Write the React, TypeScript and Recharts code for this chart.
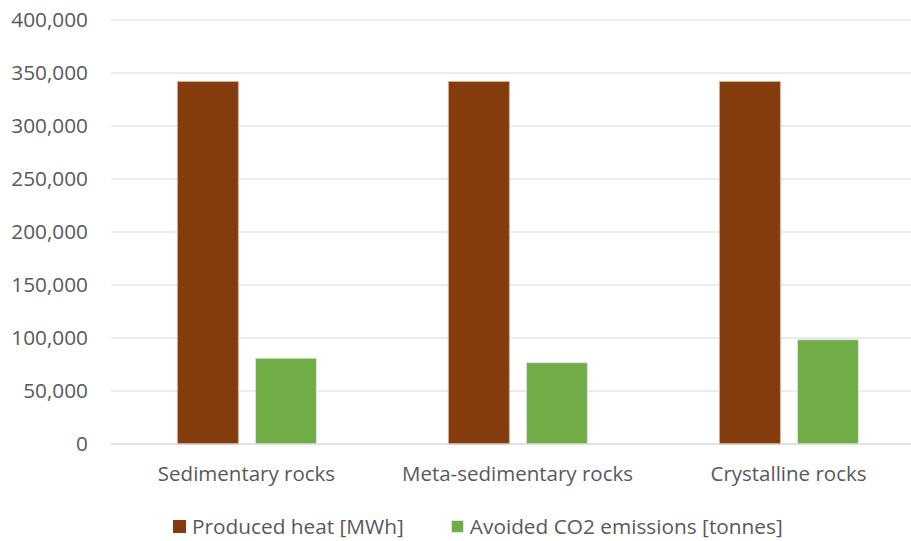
import { BarChart, Bar, XAxis, YAxis, CartesianGrid } from "recharts";

const categories = ["Sedimentary rocks", "Meta-sedimentary rocks", "Crystalline rocks"];
const producedHeat = [342000, 342000, 342000];
const avoidedCO2 = [81000, 76700, 98400];
const yTicks = [0, 50000, 100000, 150000, 200000, 250000, 300000, 350000, 400000];

const seriesNames = ["Produced heat [MWh]", "Avoided CO2 emissions [tonnes]"];
const seriesColors = ["#843C0C", "#70AD47"];

const data = categories.map((name, i) => ({
  name,
  heat: producedHeat[i],
  co2: avoidedCO2[i],
}));

const font = "'Open Sans', sans-serif";

function LegendBox() {
  return (
    <div
      style={{
        position: "absolute",
        left: 173,
        top: 512,
        display: "flex",
        alignItems: "center",
        whiteSpace: "nowrap",
        fontFamily: font,
        fontSize: 20.8,
        color: "#595959",
      }}
    >
      {seriesNames.map((n, i) => (
        <div key={n} style={{ display: "flex", alignItems: "center", marginRight: i === 0 ? 47 : 0 }}>
          <span
            style={{
              display: "inline-block",
              width: 13,
              height: 13,
              background: seriesColors[i],
              marginRight: 6,
              boxSizing: "border-box",
              border: i === 1 ? "1px solid #e2e2e2" : "none",
            }}
          />
          <span>{n}</span>
        </div>
      ))}
    </div>
  );
}

// the source picture is cropped on the right, so the plot runs past the frame
export default function App() {
  return (
    <div
      style={{
        position: "absolute",
        left: 0,
        top: 0,
        width: 911,
        height: 541,
        overflow: "hidden",
        background: "#fff",
      }}
    >
      <BarChart
        width={924}
        height={541}
        data={data}
        margin={{ top: 20, right: 0, bottom: 0, left: 0 }}
        barCategoryGap="24.5%"
        barGap={17}
      >
        <CartesianGrid vertical={false} stroke="#d9d9d9" strokeWidth={1} />
        <XAxis
          dataKey="name"
          height={97}
          axisLine={{ stroke: "#d9d9d9" }}
          tickLine={false}
          tickSize={0}
          tickMargin={22}
          tick={{ fill: "#595959", fontSize: 20.5, fontFamily: font }}
        />
        <YAxis
          width={111}
          domain={[0, 400000]}
          ticks={yTicks}
          axisLine={false}
          tickLine={false}
          tickSize={0}
          tickMargin={23}
          tickFormatter={(v: number) => v.toLocaleString("en-US")}
          tick={{ fill: "#595959", fontSize: 20.8, fontFamily: font }}
        />
        <Bar
          dataKey="heat"
          name={seriesNames[0]}
          fill={seriesColors[0]}
          stroke="#d2b29c"
          strokeWidth={1}
          isAnimationActive={false}
        />
        <Bar
          dataKey="co2"
          name={seriesNames[1]}
          fill={seriesColors[1]}
          stroke="#e2e2e2"
          strokeWidth={1}
          isAnimationActive={false}
        />
      </BarChart>
      <LegendBox />
    </div>
  );
}
